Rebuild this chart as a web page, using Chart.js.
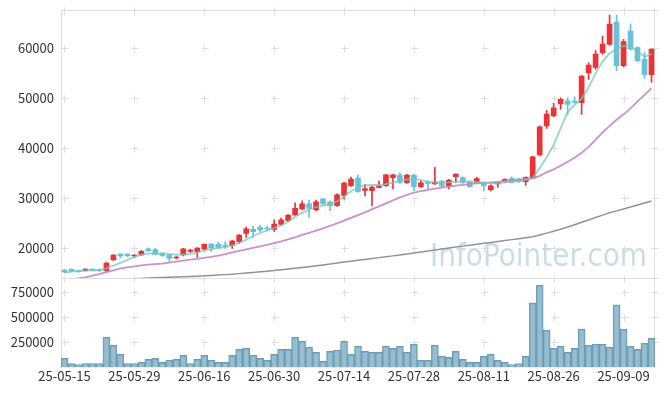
<!DOCTYPE html>
<html><head><meta charset="utf-8">
<script src="https://cdn.jsdelivr.net/npm/chart.js@4.4.1/dist/chart.umd.min.js"></script>
<style>html,body{margin:0;padding:0;background:#fff}#wrap{width:665px;height:396px}</style>
</head><body><div id="wrap"><canvas id="c" width="665" height="396"></canvas></div>
<script>
const dates = ['25-05-15','25-05-16','25-05-19','25-05-20','25-05-21','25-05-22','25-05-23','25-05-26','25-05-27','25-05-28',
'25-05-29','25-05-30','25-06-02','25-06-04','25-06-05','25-06-09','25-06-10','25-06-11','25-06-12','25-06-13',
'25-06-16','25-06-17','25-06-18','25-06-19','25-06-20','25-06-23','25-06-24','25-06-25','25-06-26','25-06-27',
'25-06-30','25-07-01','25-07-02','25-07-03','25-07-04','25-07-07','25-07-08','25-07-09','25-07-10','25-07-11',
'25-07-14','25-07-15','25-07-16','25-07-17','25-07-18','25-07-21','25-07-22','25-07-23','25-07-24','25-07-25',
'25-07-28','25-07-29','25-07-30','25-07-31','25-08-01','25-08-04','25-08-05','25-08-06','25-08-07','25-08-08',
'25-08-11','25-08-12','25-08-13','25-08-14','25-08-18','25-08-19','25-08-20','25-08-21','25-08-22','25-08-25',
'25-08-26','25-08-27','25-08-28','25-08-29','25-09-01','25-09-02','25-09-03','25-09-04','25-09-05','25-09-08',
'25-09-09','25-09-10','25-09-11','25-09-12','25-09-15'];

const opens = [15660,15800,15520,15520,15850,15800,15520,17720,18860,18860,
18460,18700,19900,19760,19000,18660,18060,18700,19400,19320,
19860,20860,20860,20660,20600,21320,23000,23800,24200,24060,
23800,24800,25520,26660,27860,28920,27660,29920,29320,28520,
30600,32520,34060,31560,31520,32200,32520,34120,34660,33120,
34660,32320,33200,32860,33400,32460,34320,34160,33320,33160,
33120,31720,32860,33320,34000,33860,33320,34120,38660,44460,
46520,48860,49520,49460,49120,55120,56200,59120,60800,65260,
56520,63460,60120,57860,54720];
const highs = [15800,15900,15600,15900,15950,15850,17260,18760,18960,18900,
18760,19600,20100,20000,19100,18700,18460,20000,19800,20200,
20900,21000,21200,21300,21660,22760,24260,24400,24600,24400,
25720,26060,26760,29100,29500,29660,29660,30000,29500,30900,
33200,34260,34660,32800,32400,33460,34800,34800,35120,34800,
34800,33520,33520,36200,33600,33800,34900,34300,33500,34200,
33300,32700,33300,33900,34300,34000,34300,38400,44500,47600,
49000,50100,50100,50320,54600,57100,59520,62460,66660,66660,
61800,64860,60300,59120,59900];
const lows = [15100,15300,15200,15450,15450,15300,15450,17520,18060,18400,
18100,18600,19400,18700,18400,17400,17900,18500,19200,18200,
19600,19400,20000,20000,20000,21000,22200,22200,23300,23500,
23400,24600,25400,26600,27700,26200,27500,28800,27520,28400,
29860,32400,31200,30520,28460,32100,32400,31860,33000,33000,
31460,32200,31800,32800,32300,31860,33200,33000,32200,33000,
31460,31460,32200,33200,33100,33200,32600,34000,38500,44000,
46300,47800,46660,49000,46800,53800,55800,58800,60600,55520,
56300,59600,57300,54000,53200];
const closes = [15300,15460,15400,15860,15550,15600,17060,18660,18460,18500,
18660,19400,19500,18800,18600,18000,18260,19900,19660,20060,
20800,20120,20160,20400,21460,22660,23920,23320,23660,23860,
24860,25720,26660,28000,28920,28000,29320,28860,28520,30720,
33060,33860,31320,31960,32260,32520,34720,34720,33200,34660,
32320,33120,33000,33260,32460,33660,34860,33160,32320,33960,
32460,32520,33200,33800,33200,33320,34200,38320,44320,46860,
48120,49800,48800,49200,54460,56660,58860,60860,64860,56520,
61320,59860,57520,54720,59860];
const volumes = [90000,40000,30000,40000,40000,40000,300000,220000,130000,40000,
40000,50000,80000,90000,50000,73000,80000,120000,40000,80000,
120000,73000,50000,50000,120000,180000,190000,120000,90000,70000,
130000,180000,180000,300000,260000,200000,150000,60000,160000,173000,
260000,130000,210000,160000,150000,150000,210000,190000,210000,150000,
230000,70000,70000,220000,110000,100000,160000,80000,50000,50000,
110000,130000,70000,50000,30000,40000,110000,640000,813000,370000,
190000,210000,150000,190000,380000,220000,230000,230000,200000,620000,
380000,210000,180000,240000,290000];
const ma5 = [15160,15360,15460,15560,15660,15700,16000,16560,17100,17700,
18300,18760,18950,19000,19000,18900,18750,18750,18900,19150,
19600,19850,20050,20250,20550,21060,21760,22460,23060,23560,
24060,24560,25300,26300,27100,27760,28260,28560,28760,29360,
30300,31400,32200,32560,32660,32660,32860,33160,33560,33760,
33900,33660,33360,33160,33120,33200,33320,33320,33320,33260,
33120,33000,33060,33200,33320,33460,33660,34100,36000,38200,
40700,44000,47300,48700,49900,52200,55000,57400,59000,59800,
60500,60400,59300,58300,58900];
const ma20 = [13600,13800,14000,14200,14560,14860,15220,15600,16000,16200,
16400,16600,16750,16850,16960,17150,17340,17530,17720,17910,
18100,18300,18560,18860,19200,19500,19800,20100,20400,20700,
21060,21400,21800,22200,22700,23100,23550,24000,24500,25000,
25550,26100,26650,27200,27800,28400,29000,29600,30200,30700,
31150,31450,31700,31950,32150,32350,32550,32700,32850,33000,
33100,33200,33300,33450,33600,33750,33900,33950,34500,35200,
35800,36500,37300,38100,39100,40300,41700,43200,44500,45700,
46800,48000,49400,50700,52000];
const ma60 = [13300,13360,13420,13480,13540,13600,13660,13720,13780,13850,
13920,13980,14050,14110,14160,14210,14260,14310,14360,14430,
14500,14580,14660,14740,14820,14940,15060,15180,15300,15430,
15560,15710,15860,16010,16160,16330,16500,16680,16860,17060,
17260,17430,17600,17780,17960,18140,18320,18490,18660,18860,
19060,19260,19460,19660,19860,20060,20250,20440,20630,20820,
21000,21180,21370,21550,21740,21920,22120,22320,22680,23040,
23400,23830,24260,24730,25200,25660,26150,26640,27120,27490,
27860,28260,28660,29060,29460];
const priceTicks = [20000,30000,40000,50000,60000];
const volumeTicks = [250000,500000,750000];

const UP = 'rgb(234,51,56)', DOWN = 'rgb(104,193,214)';
const candleColors = closes.map((c,i)=> c >= opens[i] ? UP : DOWN);

Chart.defaults.font.family = "'Noto Sans CJK KR','Noto Sans',sans-serif";
Chart.defaults.font.size = 13;
Chart.defaults.color = '#333';

const frame = {
  id: 'frame',
  beforeDatasetsDraw(chart) {
    const {ctx, chartArea: a, scales} = chart;
    const y = scales.y, yv = scales.yv, x = scales.x;
    ctx.save();
    // watermark
    ctx.fillStyle = '#cadde7';
    ctx.font = '32px "DejaVu Sans"';
    ctx.textAlign = 'right';
    ctx.textBaseline = 'alphabetic';
    ctx.fillText('InfoPointer.com', a.right - 8, y.bottom - 12, 217);
    // frame lines
    ctx.strokeStyle = '#e0e0e0';
    ctx.lineWidth = 1;
    ctx.beginPath();
    const L = Math.round(a.left) + 0.5, R = Math.round(a.right) - 0.5, T = Math.round(a.top) + 0.5, M = Math.round(y.bottom) + 0.5;
    ctx.moveTo(L, a.top); ctx.lineTo(L, a.bottom);
    ctx.moveTo(a.left, T); ctx.lineTo(a.right, T);
    ctx.moveTo(R, a.top); ctx.lineTo(R, a.bottom);
    ctx.moveTo(a.left, M); ctx.lineTo(a.right, M);
    ctx.stroke();
    // grid crosses
    const xs = [];
    for (let i = 0; i < dates.length; i += 10) xs.push(x.getPixelForValue(i));
    xs.push(a.right - 1);
    const ys = [a.top, y.bottom].concat(priceTicks.map(v => y.getPixelForValue(v)), volumeTicks.map(v => yv.getPixelForValue(v)));
    ctx.strokeStyle = '#dcdcdc';
    ctx.beginPath();
    xs.forEach(px => ys.forEach(py => {
      const X = Math.round(px) + 0.5, Y = Math.round(py) + 0.5;
      ctx.moveTo(X - 3, Y); ctx.lineTo(X + 4, Y);
      ctx.moveTo(X, Y - 3); ctx.lineTo(X, Y + 4);
    }));
    ctx.stroke();
    ctx.restore();
  },
  beforeDatasetDraw(chart, args) {
    const ds = chart.data.datasets[args.index];
    if (ds.yAxisID === 'y') {
      const s = chart.scales.y, a = chart.chartArea, ctx = chart.ctx;
      ctx.save();
      ctx.beginPath();
      ctx.rect(a.left, s.top, a.right - a.left, s.bottom - s.top);
      ctx.clip();
    }
  },
  afterDatasetDraw(chart, args) {
    const ds = chart.data.datasets[args.index];
    if (ds.yAxisID === 'y') chart.ctx.restore();
  }
};

const fitY = s => { s.width = 61; s.paddingTop = 0; s.paddingBottom = 0; };

new Chart(document.getElementById('c'), {
  type: 'bar',
  data: {
    labels: dates,
    datasets: [
      { type: 'line', label: 'MA5', data: ma5, yAxisID: 'y', borderColor: 'rgba(120,198,182,0.75)', borderWidth: 1.8, pointRadius: 0, order: 0 },
      { type: 'line', label: 'MA20', data: ma20, yAxisID: 'y', borderColor: 'rgba(198,132,196,0.9)', borderWidth: 1.8, pointRadius: 0, order: 0 },
      { type: 'line', label: 'MA60', data: ma60, yAxisID: 'y', borderColor: 'rgba(140,140,140,0.95)', borderWidth: 1.5, pointRadius: 0, order: 0 },
      { label: 'body', data: opens.map((o,i)=>[o, closes[i]]), yAxisID: 'y', backgroundColor: candleColors, barThickness: 5, minBarLength: 1, grouped: false, order: 2 },
      { label: 'wick', data: lows.map((l,i)=>[l, highs[i]]), yAxisID: 'y', backgroundColor: candleColors, barThickness: 1, grouped: false, order: 3 },
      { label: 'volume', data: volumes, yAxisID: 'yv', backgroundColor: 'rgba(122,170,195,0.78)', borderColor: 'rgba(95,145,170,0.9)', borderWidth: 1, barPercentage: 1, categoryPercentage: 1, grouped: false, order: 4 }
    ]
  },
  options: {
    responsive: false,
    animation: false,
    devicePixelRatio: 1,
    layout: { padding: { top: 10, right: 10, left: 0, bottom: 0 } },
    plugins: { legend: { display: false }, tooltip: { enabled: false } },
    scales: {
      x: {
        type: 'category', offset: true,
        grid: { display: false, drawTicks: false }, border: { display: false },
        ticks: { autoSkip: false, maxRotation: 0, minRotation: 0, padding: 1, callback: (v, i) => i % 10 === 0 ? dates[i] : '' },
        afterFit: s => { s.height = 28.5; s.paddingLeft = 0; s.paddingRight = 0; }
      },
      yv: {
        type: 'linear', position: 'left', stack: 'p', stackWeight: 1, min: 0, max: 884500,
        afterBuildTicks: s => { s.ticks = volumeTicks.map(v => ({ value: v })); },
        grid: { display: false, drawTicks: false }, border: { display: false },
        ticks: { padding: 7, callback: v => String(v) },
        afterFit: fitY
      },
      y: {
        type: 'linear', position: 'left', stack: 'p', stackWeight: 3, min: 14040, max: 67660,
        afterBuildTicks: s => { s.ticks = priceTicks.map(v => ({ value: v })); },
        grid: { display: false, drawTicks: false }, border: { display: false },
        ticks: { padding: 7, callback: v => String(v) },
        afterFit: fitY
      }
    }
  },
  plugins: [frame]
});
</script>
</body></html>
